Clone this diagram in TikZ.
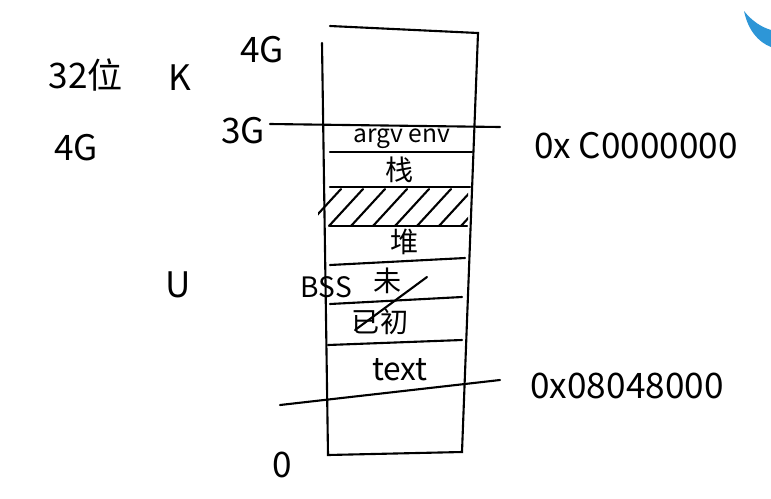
\documentclass[tikz,border=0pt]{standalone}
\usepackage{fontspec}
\setmainfont{Noto Sans CJK SC}
\definecolor{logo}{RGB}{45,150,215}
\tikzset{
  big/.style={font=\fontsize{20}{24}\selectfont},
  seg/.style={font=\fontsize{16}{19}\selectfont}
}
\begin{document}
\begin{tikzpicture}[x=0.02cm,y=-0.02cm,line width=1.2pt,line cap=round]
    \useasboundingbox (0,0) rectangle (771,498);
    % logo
    \fill[logo] (744,11) .. controls (748,30) and (758,42) .. (771,47) -- (771,30) .. controls (761,27) and (752,21) .. (744,11);
    % textes de gauche
    \node[big] (bits) at (86,75) {32位};
    \node[big] (k) at (180,78) {K};
    \node[big] (g) at (76,148) {4G};
    \node[big] (u) at (178,285) {U};
    % cadre
    \draw (330,26) -- (478,33) -- (462,452) -- (328,455) -- (322,43);
    \node[big] (g4) at (262,50) {4G};
    \node[big] (g3) at (243,131) {3G};
    \node[big] (zero) at (282,465) {0};
    % limite noyau / utilisateur
    \draw (270,124) -- (500,127);
    \node[big] (addrk) at (636,146) {0x C0000000};
    % zones
    \draw (330,152) -- (472,152);
    \draw (330,187) -- (470,187);
    \draw (330,226) -- (467,226);
    \draw (330,265) -- (465,258);
    \draw (330,304) -- (462,297);
    \draw (328,345) -- (462,340);
    \node[seg,font=\fontsize{14}{16}\selectfont] (argv) at (402,139) {argv env};
    \node[seg] (pile) at (400,170) {栈};
    \node[seg] (tas) at (405,242) {堆};
    \node[seg,anchor=west] (bss) at (294,287) {BSS};
    \node[seg] (bssb) at (388,281) {未};
    \node[seg] (data) at (380,322) {已初};
    \node[seg,font=\fontsize{18}{21}\selectfont] (text) at (400,370) {text};
    \draw (355,330) -- (427,277);
    % zone hachurée
    \begin{scope}
      \clip (318,187) rectangle (468,226);
      \foreach \x in {325,347,...,480}
        \draw (\x-18,226) -- (\x+16,189);
    \end{scope}
    % début du code
    \draw (280,405) -- (500,380);
    \node[big] (addrt) at (627,386) {0x08048000};
\end{tikzpicture}
\end{document}
